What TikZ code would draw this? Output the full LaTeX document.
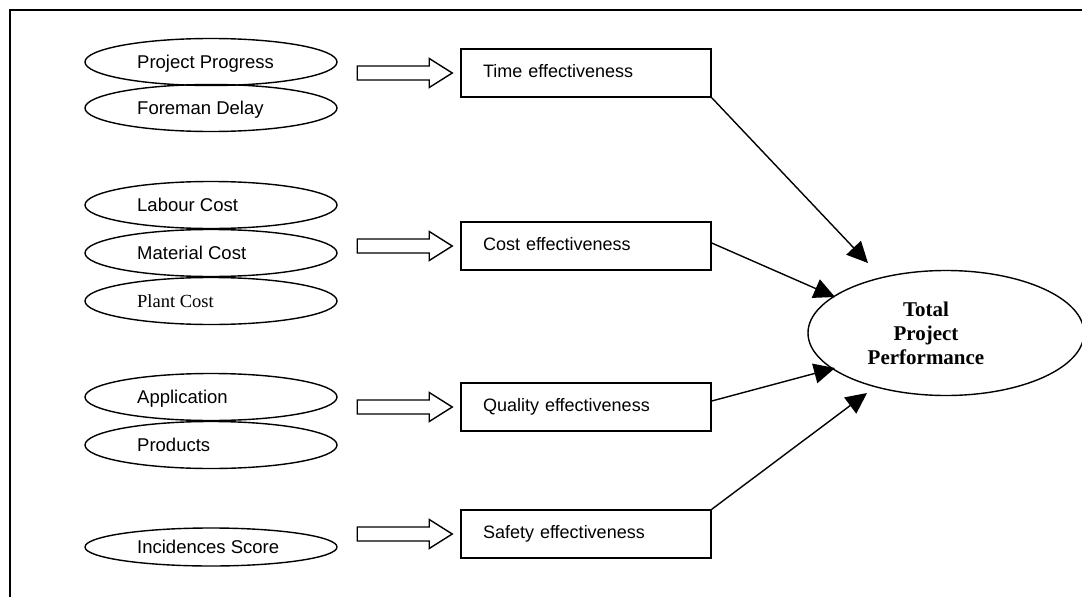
\documentclass[tikz,border=0pt]{standalone}
\usepackage{fontspec}
\setmainfont{Liberation Sans}
\newfontfamily\serifrm{Liberation Serif}
\usetikzlibrary{arrows.meta,shapes.geometric,calc}
\tikzset{
  oval/.style={draw, line width=1.4pt, ellipse, minimum width=252pt, minimum height=47pt, inner sep=0pt},
  ovaltext/.style={anchor=base west, inner sep=0pt, font=\fontsize{18.5}{20}\selectfont},
  effbox/.style={draw, line width=1.5pt, rectangle, minimum height=48pt, text width=206pt, inner xsep=22pt, inner ysep=0pt, align=left, text height=13pt, text depth=4pt, font=\fontsize{18}{20}\selectfont},
  blockarrow/.style={draw, line width=1.4pt, fill=white, line join=miter},
  conn/.style={line width=1.4pt, -{Triangle[length=21pt,width=20pt]}},
  frame/.style={line width=2pt}
}
\begin{document}
\begin{tikzpicture}[x=1pt,y=-1pt]
\useasboundingbox (0,0) rectangle (1082,597);
\clip (0,0) rectangle (1082,597);
\draw[frame] (10,600) -- (10,10) -- (1085,10);

% input ellipses
\node[oval] (pp) at (211,62) {};
\node[oval] (fd) at (211,108) {};
\node[oval] (lc) at (211,205) {};
\node[oval] (mc) at (211,253) {};
\node[oval] (pc) at (211,301) {};
\node[oval] (ap) at (211,397) {};
\node[oval] (pr) at (211,445) {};
\node[oval, minimum height=38pt] (is) at (211,547) {};

\node[ovaltext] (tpp) at (137,68.5) {Project Progress};
\node[ovaltext] (tfd) at (137,114.5) {Foreman Delay};
\node[ovaltext] (tlc) at (137,211.5) {Labour Cost};
\node[ovaltext] (tmc) at (137,259.5) {Material Cost};
\node[ovaltext, font=\serifrm\fontsize{18.5}{20}\selectfont] (tpc) at (137,307.5) {Plant Cost};
\node[ovaltext] (tap) at (137,403.5) {Application};
\node[ovaltext] (tpr) at (137,451.5) {Products};
\node[ovaltext] (tis) at (137,553.5) {Incidences Score};

% effectiveness boxes
\node[effbox] (time) at (586,73) {Time effectiveness};
\node[effbox] (cost) at (586,246) {Cost effectiveness};
\node[effbox] (qual) at (586,407) {Quality effectiveness};
\node[effbox] (safe) at (586,534) {Safety effectiveness};

% block arrows
\foreach \b in {time,cost,qual,safe}{
  \draw[blockarrow] ([xshift=-8pt]\b.west) -- ++(-23,-14.5) -- ++(0,7.5) -- ++(-72,0)
    -- ++(0,14) -- ++(72,0) -- ++(0,7.5) -- cycle;
}

% total project performance
\node[draw, line width=1.4pt, ellipse, minimum width=276pt, minimum height=125pt, inner sep=0pt] (tpp2) at (946,333) {};
\node[font=\serifrm\bfseries\fontsize{21}{24}\selectfont, align=center, inner sep=0pt] (tpptext) at (926,333) {Total\\Project\\Performance};

\coordinate (ta) at (868,263);
\coordinate (tb) at (835,297);
\coordinate (tc) at (835,368);
\coordinate (td) at (867,393);

\draw[conn] ([yshift=3pt]cost.east) -- (tb);
\draw[conn] (time.south east) -- (ta);
\draw[conn] ([yshift=6pt]qual.east) -- (tc);
\draw[conn] (safe.north east) -- (td);
\end{tikzpicture}
\end{document}
